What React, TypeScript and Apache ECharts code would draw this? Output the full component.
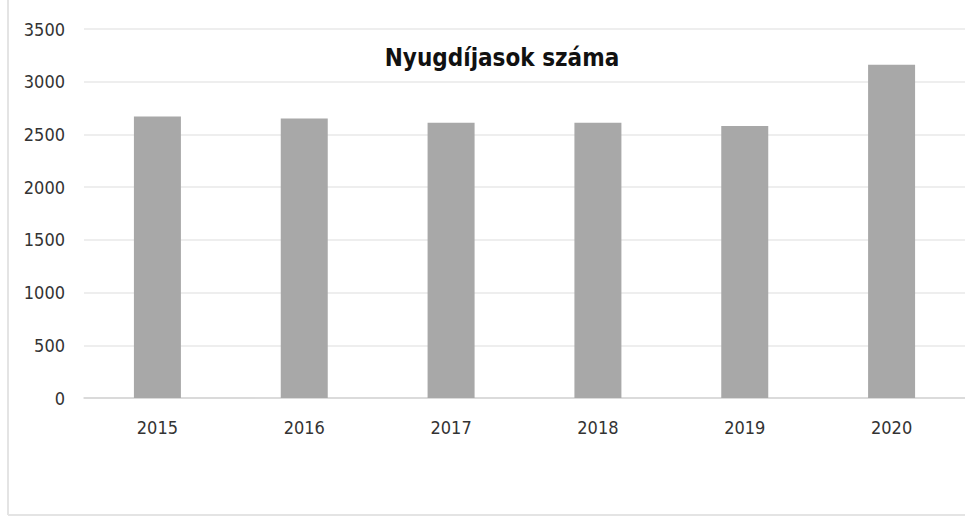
import React, { useEffect, useRef } from "react";
import * as echarts from "echarts";

const categories = ["2015", "2016", "2017", "2018", "2019", "2020"];
const pensioners = [2670, 2650, 2610, 2610, 2580, 3160];
const yTicks = [0, 500, 1000, 1500, 2000, 2500, 3000, 3500];
const chartTitle = "Nyugdíjasok száma";

export default function App() {
  const ref = useRef<HTMLDivElement>(null);
  useEffect(() => {
    if (!ref.current) return;
    const chart = echarts.init(ref.current, undefined, { renderer: "svg" });
    const labelFont = "'DejaVu Sans Condensed', 'Liberation Sans Narrow', sans-serif";
    chart.setOption({
      animation: false,
      backgroundColor: "#ffffff",
      title: {
        text: chartTitle,
        left: 497,
        top: 41,
        textAlign: "center",
        textStyle: {
          fontFamily: "'DejaVu Sans Condensed', sans-serif",
          fontWeight: "bold",
          fontSize: 24,
          color: "#111111",
        },
      },
      graphic: [
        {
          type: "line",
          shape: { x1: 8, y1: 0, x2: 8, y2: 515 },
          style: { stroke: "#e4e4e4", lineWidth: 2 },
        },
        {
          type: "line",
          shape: { x1: 8, y1: 515, x2: 965, y2: 515 },
          style: { stroke: "#e4e4e4", lineWidth: 2 },
        },
      ],
      grid: { left: 84, right: -4, top: 29, height: 369, containLabel: false },
      xAxis: {
        type: "category",
        data: categories,
        axisLine: { show: true, lineStyle: { color: "#d4d4d4", width: 1.5 } },
        axisTick: { show: false },
        axisLabel: {
          margin: 20,
          fontSize: 18,
          color: "#333333",
          fontFamily: labelFont,
        },
      },
      yAxis: {
        type: "value",
        min: yTicks[0],
        max: yTicks[yTicks.length - 1],
        interval: 500,
        axisLine: { show: false },
        axisTick: { show: false },
        splitLine: { lineStyle: { color: "#e8e8e8", width: 1.5 } },
        axisLabel: {
          margin: 19,
          fontSize: 18,
          color: "#333333",
          fontFamily: labelFont,
          formatter: (v: number) => String(v),
        },
      },
      series: [
        {
          type: "bar",
          data: pensioners,
          barWidth: 47,
          itemStyle: { color: "#a8a8a8" },
        },
      ],
    });
    return () => chart.dispose();
  }, []);
  return (
    <div
      ref={ref}
      style={{ position: "fixed", left: 0, top: 0, width: 965, height: 521 }}
    />
  );
}
